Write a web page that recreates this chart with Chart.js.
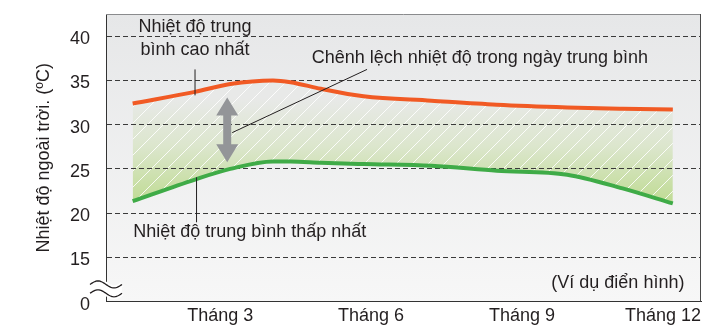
<!DOCTYPE html>
<html lang="vi">
<head>
<meta charset="utf-8">
<title>Nhiệt độ ngoài trời</title>
<script src="https://cdn.jsdelivr.net/npm/chart.js@4"></script>
<style>
  html, body { margin: 0; padding: 0; background: #ffffff; }
  #wrap { width: 722px; height: 325px; }
</style>
</head>
<body>
<div id="wrap"><canvas id="chart" width="722" height="325"></canvas></div>
<script>
// Monthly position (month number) of each sample along the curves
const months  = [1.26, 2.5, 3.2, 4.05, 4.4, 5.0, 5.85, 7.2, 8.5, 9.9, 11, 12];
// Average daily maximum temperature (°C)
const avgHigh = [32.4, 33.7, 34.6, 35.0, 34.8, 34.05, 33.2, 32.7, 32.25, 31.95, 31.8, 31.7];
// Average daily minimum temperature (°C)
const avgLow  = [21.35, 23.8, 25.0, 25.85, 25.85, 25.7, 25.55, 25.35, 24.8, 24.35, 22.8, 21.1];

const monthTicks  = [3, 6, 9, 12];
const monthLabels = ['Tháng 3', 'Tháng 6', 'Tháng 9', 'Tháng 12'];
// The axis is broken below 15: the bottom tick stands for 0
const tempTicks      = [10, 15, 20, 25, 30, 35, 40];
const tempTickLabels = ['0', '15', '20', '25', '30', '35', '40'];

const FONT = "'Liberation Sans', Arial, Helvetica, sans-serif";
const INK = '#231f20';

// Gradient + white diagonal hatch used for the band between the two curves
let hatchPattern = null;
function bandFill(chart) {
  const { chartArea, scales } = chart;
  if (!chartArea || !scales.y) return 'rgba(0,0,0,0)';
  if (hatchPattern) return hatchPattern;
  const w = chart.width, h = chart.height;
  const c = document.createElement('canvas');
  c.width = w; c.height = h;
  const g = c.getContext('2d');
  const yTop = scales.y.getPixelForValue(33);
  const yBot = scales.y.getPixelForValue(21);
  const grad = g.createLinearGradient(0, yTop, 0, yBot);
  grad.addColorStop(0, '#e8e9e8');
  grad.addColorStop(0.45, '#dce6cd');
  grad.addColorStop(1, '#bfdb92');
  g.fillStyle = grad;
  g.fillRect(0, 0, w, h);
  g.strokeStyle = 'rgba(255,255,255,0.85)';
  g.lineWidth = 1;
  for (let x = -h; x < w + h; x += 16) {
    g.beginPath();
    g.moveTo(x, h);
    g.lineTo(x + h, 0);
    g.stroke();
  }
  hatchPattern = chart.ctx.createPattern(c, 'no-repeat');
  return hatchPattern;
}

// Plot background, frame and grid redraw over the band
const plotFrame = {
  id: 'plotFrame',
  beforeDraw(chart) {
    const { ctx, chartArea: a } = chart;
    const grad = ctx.createLinearGradient(0, a.top, 0, a.bottom);
    grad.addColorStop(0, '#e6e7e8');
    grad.addColorStop(1, '#f7f7f7');
    ctx.save();
    ctx.fillStyle = grad;
    ctx.fillRect(a.left, a.top, a.right - a.left, a.bottom - a.top);
    ctx.restore();
  },
  beforeDatasetsDraw(chart) {
    // dashed grid lines sit on top of the hatched band, below the curves
    chart.scales.y.drawGrid(chart.chartArea);
  },
  afterDraw(chart) {
    const { ctx, chartArea: a } = chart;
    ctx.save();
    ctx.lineWidth = 1;
    ctx.strokeStyle = '#8a8b8d';
    ctx.beginPath();
    ctx.moveTo(a.left, Math.round(a.top) + 0.5);
    ctx.lineTo(a.right, Math.round(a.top) + 0.5);
    ctx.stroke();
    ctx.strokeStyle = '#4a4a4a';
    ctx.beginPath();
    ctx.moveTo(Math.round(a.right) - 0.5, a.top);
    ctx.lineTo(Math.round(a.right) - 0.5, a.bottom);
    ctx.stroke();

    // axis break marks on the left axis
    const x0 = a.left - 16, span = 32, amp = 3.5;
    const y1 = chart.scales.y.getPixelForValue(11.95);
    const y2 = chart.scales.y.getPixelForValue(10.95);
    const wave = (yc) => {
      const pts = [];
      for (let i = 0; i <= 32; i++) {
        const x = x0 + span * i / 32;
        pts.push([x, yc - amp * Math.sin(2 * Math.PI * i / 32)]);
      }
      return pts;
    };
    const w1 = wave(y1), w2 = wave(y2);
    ctx.fillStyle = '#ffffff';
    ctx.beginPath();
    w1.forEach((p, i) => i ? ctx.lineTo(p[0], p[1]) : ctx.moveTo(p[0], p[1]));
    for (let i = w2.length - 1; i >= 0; i--) ctx.lineTo(w2[i][0], w2[i][1]);
    ctx.closePath();
    ctx.fill();
    const stroke = (pts, color, width) => {
      ctx.strokeStyle = color;
      ctx.lineWidth = width;
      ctx.beginPath();
      pts.forEach((p, i) => i ? ctx.lineTo(p[0], p[1]) : ctx.moveTo(p[0], p[1]));
      ctx.stroke();
    };
    stroke(w1, '#ffffff', 5);
    stroke(w2, '#ffffff', 5);
    stroke(w1, INK, 1.3);
    stroke(w2, INK, 1.3);
    ctx.restore();
  }
};

// Month labels under the axis, kept inside the plot's right edge
const monthAxisLabels = {
  id: 'monthAxisLabels',
  afterDraw(chart) {
    const { ctx, chartArea: a, scales: { x } } = chart;
    ctx.save();
    ctx.font = '18px ' + FONT;
    ctx.fillStyle = INK;
    ctx.textAlign = 'center';
    ctx.textBaseline = 'alphabetic';
    monthTicks.forEach((m, i) => {
      const text = monthLabels[i];
      const w = ctx.measureText(text).width;
      const cx = Math.min(x.getPixelForValue(m), a.right - w / 2);
      ctx.fillText(text, cx, a.bottom + 19.5);
    });
    ctx.restore();
  }
};

// Callout texts, leader lines and the range arrow
const callouts = {
  id: 'callouts',
  afterDatasetsDraw(chart) {
    const { ctx, scales: { x, y } } = chart;
    const px = (m) => x.getPixelForValue(m);
    const py = (v) => y.getPixelForValue(v);
    ctx.save();
    ctx.font = '18px ' + FONT;
    ctx.fillStyle = INK;
    ctx.textBaseline = 'alphabetic';

    ctx.textAlign = 'center';
    ctx.fillText('Nhiệt độ trung', px(2.5), py(40.45));
    ctx.fillText('bình cao nhất', px(2.5), py(37.9));

    ctx.textAlign = 'left';
    ctx.fillText('Chênh lệch nhiệt độ trong ngày trung bình', px(4.82), py(37.0));
    ctx.fillText('Nhiệt độ trung bình thấp nhất', px(1.27), py(17.31));

    ctx.textAlign = 'right';
    ctx.fillText('(Ví dụ điển hình)', px(12.23), py(11.6));

    ctx.strokeStyle = INK;
    ctx.lineWidth = 1;
    const line = (m1, v1, m2, v2) => {
      ctx.beginPath();
      ctx.moveTo(px(m1), py(v1));
      ctx.lineTo(px(m2), py(v2));
      ctx.stroke();
    };
    line(2.5, 36.24, 2.5, 33.31);
    line(5.92, 36.24, 3.24, 29.1);
    line(2.53, 24.05, 2.53, 18.97);

    // double-headed arrow spanning the daily range
    const ax = px(3.14), top = py(33.08), bot = py(25.74);
    const headW = 11, headL = 18, shaft = 4;
    ctx.fillStyle = '#939598';
    ctx.beginPath();
    ctx.moveTo(ax, top);
    ctx.lineTo(ax + headW, top + headL);
    ctx.lineTo(ax + shaft, top + headL);
    ctx.lineTo(ax + shaft, bot - headL);
    ctx.lineTo(ax + headW, bot - headL);
    ctx.lineTo(ax, bot);
    ctx.lineTo(ax - headW, bot - headL);
    ctx.lineTo(ax - shaft, bot - headL);
    ctx.lineTo(ax - shaft, top + headL);
    ctx.lineTo(ax - headW, top + headL);
    ctx.closePath();
    ctx.fill();
    ctx.restore();
  }
};

new Chart(document.getElementById('chart'), {
  type: 'line',
  data: {
    datasets: [
      {
        label: 'Nhiệt độ trung bình cao nhất',
        data: months.map((m, i) => ({ x: m, y: avgHigh[i] })),
        borderColor: '#f15a24',
        borderWidth: 4,
        pointRadius: 0,
        cubicInterpolationMode: 'monotone',
        fill: '+1',
        backgroundColor: (ctx) => bandFill(ctx.chart)
      },
      {
        label: 'Nhiệt độ trung bình thấp nhất',
        data: months.map((m, i) => ({ x: m, y: avgLow[i] })),
        borderColor: '#3fab47',
        borderWidth: 4,
        pointRadius: 0,
        cubicInterpolationMode: 'monotone',
        fill: false
      }
    ]
  },
  options: {
    responsive: false,
    animation: false,
    layout: { padding: { top: 14, right: 21, left: 0, bottom: 0 } },
    plugins: {
      legend: { display: false },
      tooltip: { enabled: false },
      filler: { drawTime: 'beforeDatasetsDraw' }
    },
    scales: {
      x: {
        type: 'linear',
        min: 0.73,
        max: 12.56,
        afterBuildTicks: (s) => { s.ticks = monthTicks.map((v) => ({ value: v })); },
        afterFit: (s) => { s.height = 23.3; s.paddingLeft = 0; s.paddingRight = 0; },
        grid: { display: false, drawTicks: false },
        border: { display: true, color: '#333333', width: 1 },
        ticks: { display: false }
      },
      y: {
        type: 'linear',
        min: 10,
        max: 42.5,
        afterBuildTicks: (s) => { s.ticks = tempTicks.map((v) => ({ value: v })); },
        afterFit: (s) => { s.width = 106; s.paddingTop = 0; s.paddingBottom = 0; },
        grid: {
          drawTicks: false,
          lineWidth: 1,
          color: (c) => (c.tick && c.tick.value === tempTicks[0]) ? 'rgba(0,0,0,0)' : '#3a3a3a'
        },
        border: { display: true, color: '#333333', width: 1, dash: [5, 3] },
        ticks: {
          padding: 16,
          labelOffset: 3,
          color: INK,
          font: { family: FONT, size: 18 },
          callback: (v) => tempTickLabels[tempTicks.indexOf(v)]
        },
        title: {
          display: true,
          text: 'Nhiệt độ ngoài trời. (ºC)',
          color: INK,
          font: { family: FONT, size: 18 },
          padding: { top: 33, bottom: 0 }
        }
      }
    }
  },
  plugins: [plotFrame, monthAxisLabels, callouts]
});
</script>
</body>
</html>
